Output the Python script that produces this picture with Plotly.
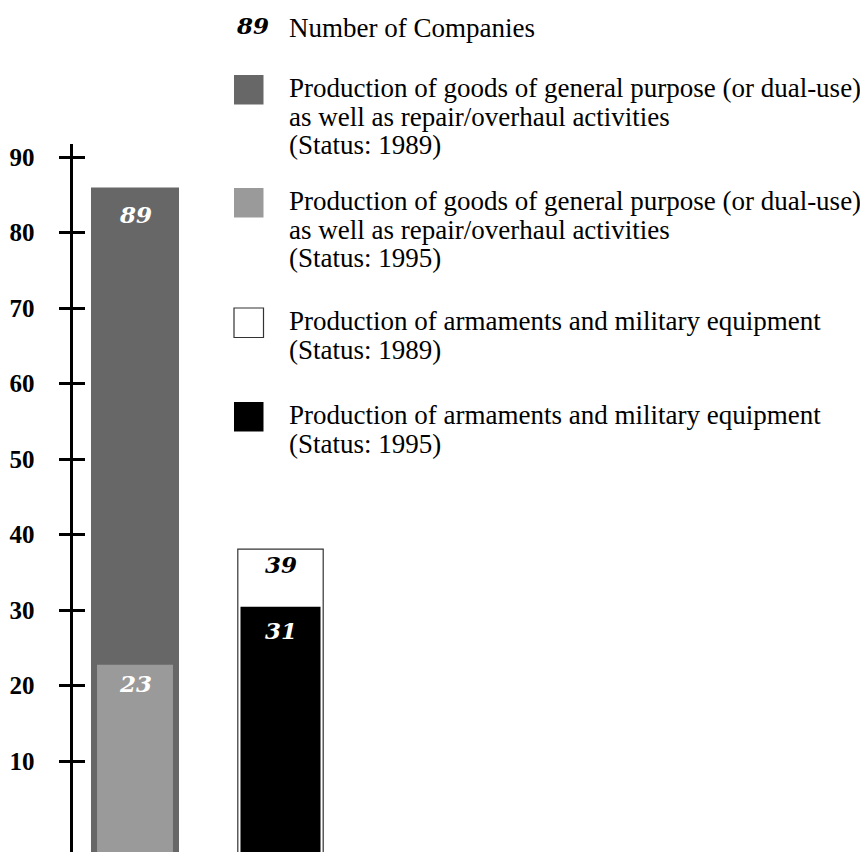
import plotly.graph_objects as go

# ---- data ----
group_pos = [0, 1]                      # 0: general purpose / dual-use, 1: armaments
general_1989 = 89
general_1995 = 23
arms_1989 = 39
arms_1995 = 31
tick_vals = [10, 20, 30, 40, 50, 60, 70, 80, 90]
tick_text = [str(v) for v in tick_vals]
legend_rows = [
    ["Production of goods of general purpose (or dual-use)",
     "as well as repair/overhaul activities", "(Status: 1989)"],
    ["Production of goods of general purpose (or dual-use)",
     "as well as repair/overhaul activities", "(Status: 1995)"],
    ["Production of armaments and military equipment", "(Status: 1989)"],
    ["Production of armaments and military equipment", "(Status: 1995)"],
]
legend_title = "Number of Companies"
legend_sample = "89"

# ---- style / geometry (page pixels) ----
W, H = 868, 852
OFF = 8                      # default body margin of the page
DARK, LIGHT, WHITE, BLACK = "#676767", "#9a9a9a", "#ffffff", "#000000"
SERIF = "Liberation Serif"
NUMFONT = dict(family="DejaVu Serif", size=23, color="white", weight="bold", style="italic")

BAR_ZERO_PX, BAR_PPU = 831.0, 7.23
AX_ZERO_PX, AX_PPU, AX_TOP_PX, AX_X_PX = 836.5, 7.55, 144.0, 70.5
X_CENTER0_PX, X_UNIT_PX = 135.0, 145.5


def X(px):
    return (px - OFF) / W


def Y(px):
    return 1 - (px - OFF) / H


bar_zero_fig = BAR_ZERO_PX - OFF
BAR_FLOOR = -(H - bar_zero_fig) / BAR_PPU
bar_range = [BAR_FLOOR, bar_zero_fig / BAR_PPU]

ax_zero_fig = AX_ZERO_PX - OFF
ax_top_fig = AX_TOP_PX - OFF
ax_range = [-(H - ax_zero_fig) / AX_PPU, (ax_zero_fig - ax_top_fig) / AX_PPU]
ax_domain = [0, 1 - ax_top_fig / H]

xc0 = X_CENTER0_PX - OFF
x_range = [-xc0 / X_UNIT_PX, (W - xc0) / X_UNIT_PX]

fig = go.Figure()


def add_bar(x, val, width, color, line_color=None, line_width=0):
    fig.add_trace(go.Bar(
        x=[x], y=[val - BAR_FLOOR], base=[BAR_FLOOR], width=[width],
        marker=dict(color=color, line=dict(color=line_color or color, width=line_width)),
        hoverinfo="skip", showlegend=False, xaxis="x", yaxis="y"))


add_bar(group_pos[0], general_1989, 0.605, DARK)
add_bar(group_pos[0], general_1995, 0.522, LIGHT)
add_bar(group_pos[1], arms_1989, 0.587, WHITE, line_color="#333333", line_width=1.2)
add_bar(group_pos[1], arms_1995, 0.550, BLACK)

# invisible traces to bind the tick axes
fig.add_trace(go.Scatter(x=[None], y=[None], xaxis="x", yaxis="y2", showlegend=False))
fig.add_trace(go.Scatter(x=[None], y=[None], xaxis="x", yaxis="y3", showlegend=False))

# value labels inside bars
labels = [
    (group_pos[0], general_1989, 27, "white"),
    (group_pos[0], general_1995, 19, "white"),
    (group_pos[1], arms_1989, 15, "black"),
    (group_pos[1], arms_1995, 24, "white"),
]
annotations = []
for gx, val, off, col in labels:
    f = dict(NUMFONT)
    f["color"] = col
    annotations.append(dict(x=gx, y=val, xref="x", yref="y", text=str(val),
                            showarrow=False, yanchor="middle", xanchor="center",
                            yshift=-off, font=f))

# legend
annotations.append(dict(x=X(252), y=Y(26), xref="paper", yref="paper", text=legend_sample,
                        showarrow=False, xanchor="center", yanchor="middle",
                        font=dict(family="DejaVu Serif", size=23, color="black",
                                  weight="bold", style="italic")))
annotations.append(dict(x=X(287), y=Y(37 - 9), xref="paper", yref="paper", text=legend_title,
                        showarrow=False, xanchor="left", yanchor="middle",
                        font=dict(family=SERIF, size=27, color="black")))

row_baselines = [97, 210, 330, 424]
swatches = [(75, DARK, None), (188, LIGHT, None), (308, WHITE, "#333333"), (402, BLACK, None)]
PITCH = 28.5
shapes = []
for rows, base, (top, col, border) in zip(legend_rows, row_baselines, swatches):
    for i, line in enumerate(rows):
        annotations.append(dict(x=X(287), y=Y(base + i * PITCH - 9), xref="paper", yref="paper",
                                text=line, showarrow=False, xanchor="left", yanchor="middle",
                                font=dict(family=SERIF, size=27, color="black")))
    shapes.append(dict(type="rect", xref="paper", yref="paper",
                       x0=X(234), x1=X(263.5), y0=Y(top), y1=Y(top + 29.5),
                       fillcolor=col,
                       line=dict(color=border or col, width=1.2 if border else 0)))

tick_axis = dict(range=ax_range, domain=ax_domain, anchor="free", position=X(AX_X_PX),
                 showgrid=False, zeroline=False, showline=True,
                 linecolor="black", linewidth=3, tickmode="array", tickvals=tick_vals,
                 tickwidth=3, tickcolor="black", fixedrange=True)

fig.update_layout(
    width=W, height=H, margin=dict(l=0, r=0, t=0, b=0),
    paper_bgcolor="white", plot_bgcolor="rgba(0,0,0,0)",
    barmode="overlay", showlegend=False,
    xaxis=dict(range=x_range, domain=[0, 1], visible=False, fixedrange=True),
    yaxis=dict(range=bar_range, domain=[0, 1], visible=False, fixedrange=True),
    yaxis2=dict(tick_axis, ticks="outside", ticklen=11, ticktext=tick_text,
                showticklabels=True, ticklabelstandoff=19,
                tickfont=dict(family=SERIF, size=25, color="black", weight="bold")),
    yaxis3=dict(tick_axis, ticks="inside", ticklen=12, showticklabels=False),
    annotations=annotations, shapes=shapes,
)

fig.write_html("out.html")
